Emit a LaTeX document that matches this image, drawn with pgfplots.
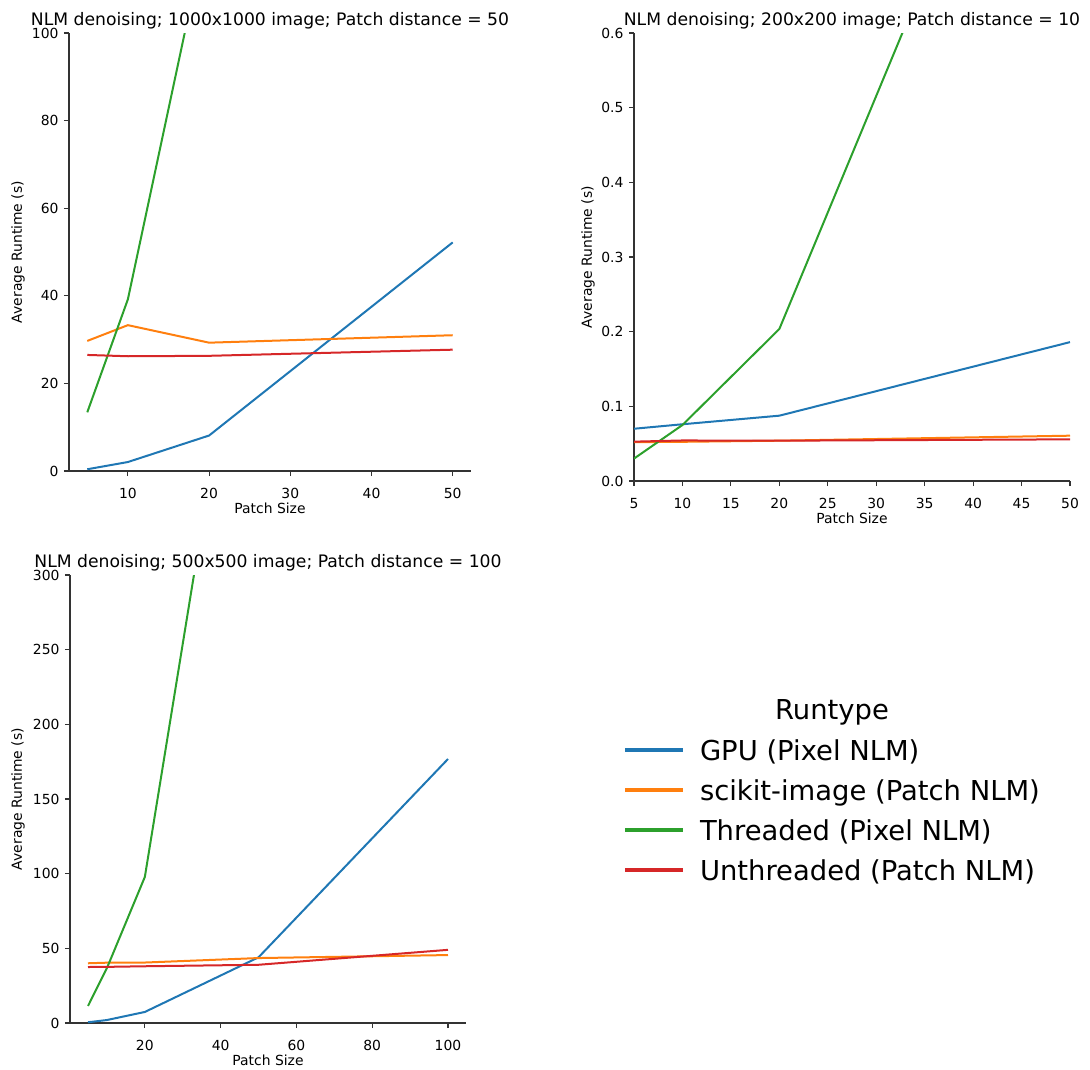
\documentclass[border=0pt]{standalone}
\usepackage{fontspec}
\setmainfont{DejaVu Sans}
\usepackage{pgfplots}
\pgfplotsset{compat=1.18}
\definecolor{tabblue}{HTML}{1F77B4}
\definecolor{taborange}{HTML}{FF7F0E}
\definecolor{tabgreen}{HTML}{2CA02C}
\definecolor{tabred}{HTML}{D62728}
\newcommand{\tickfont}{\fontsize{13.9}{16}\selectfont}
\pgfplotsset{
  nlm/.style={
    scale only axis,
    axis x line*=bottom, axis y line*=left,
    axis line style={-, line width=1.1pt, black!80},
    tick align=outside, major tick length=5pt,
    tick style={line width=1.1pt, black!80},
    /pgf/number format/assume math mode=true,
    xticklabel={\tickfont\pgfmathprintnumber{\tick}},
    yticklabel={\tickfont\pgfmathprintnumber{\tick}},
    xticklabel style={anchor=base, yshift=-22pt},
    yticklabel style={anchor=east, xshift=-2pt},
    label style={font=\fontsize{13.9}{16}\selectfont},
    xlabel style={at={([yshift=-42pt]axis description cs:0.5,0)}, anchor=base},
    title style={font=\fontsize{17.2}{20}\selectfont, at={([yshift=2pt]axis description cs:0.5,1)}, anchor=base},
    xlabel={Patch Size}, ylabel={Average Runtime (s)},
    every axis plot/.append style={line width=2pt, no markers, line join=round},
    ymin=0, clip=true,
  }
}
\begin{document}
\begin{tikzpicture}
\path[use as bounding box] (0,0) rectangle (1090pt,-1069pt);
% ---------------- subplot 1
\begin{axis}[nlm, at={(69pt,-471pt)}, anchor=south west, width=402pt, height=438pt,
  xmin=2.75, xmax=52.25, ymax=100, xtick={10,20,30,40,50}, ytick={0,20,40,60,80,100},
  ylabel style={at={([xshift=-51pt]axis description cs:0,0.5)}, anchor=center},
  title={NLM denoising; 1000x1000 image; Patch distance = 50}]
\addplot[tabblue] coordinates {(5,0.4) (10,2.05) (20,8.1) (50,52.2)};
\addplot[taborange] coordinates {(5,29.7) (10,33.3) (20,29.3) (50,31.0)};
\addplot[tabgreen] coordinates {(5,13.4) (10,39.2) (20,126.1) (50,390)};
\addplot[tabred] coordinates {(5,26.5) (10,26.2) (20,26.3) (50,27.7)};
\end{axis}
% ---------------- subplot 2
\begin{axis}[nlm, at={(634pt,-481pt)}, anchor=south west, width=436pt, height=448pt,
  xmin=5, xmax=50, ymax=0.6, xtick={5,10,...,50}, ytick={0,0.1,0.2,0.3,0.4,0.5,0.6},
  yticklabel={\tickfont\pgfmathprintnumber[fixed, precision=1, zerofill]{\tick}},
  ylabel style={at={([xshift=-46pt]axis description cs:0,0.5)}, anchor=center},
  title={NLM denoising; 200x200 image; Patch distance = 10}]
\addplot[tabblue] coordinates {(5,0.070) (10,0.076) (20,0.0875) (50,0.186)};
\addplot[taborange] coordinates {(5,0.052) (10,0.0525) (20,0.054) (50,0.0607)};
\addplot[tabgreen] coordinates {(5,0.030) (10,0.075) (20,0.2036) (50,1.14)};
\addplot[tabred] coordinates {(5,0.0527) (10,0.0543) (20,0.054) (50,0.0558)};
\end{axis}
% ---------------- subplot 3
\begin{axis}[nlm, at={(70pt,-1023pt)}, anchor=south west, width=396pt, height=448pt,
  xmin=0.25, xmax=104.75, ymax=300, xtick={20,40,60,80,100}, ytick={0,50,...,300},
  ylabel style={at={([xshift=-52pt]axis description cs:0,0.5)}, anchor=center},
  title={NLM denoising; 500x500 image; Patch distance = 100}]
\addplot[tabblue] coordinates {(5,0.5) (10,2) (20,7.4) (50,44) (100,176.8)};
\addplot[taborange] coordinates {(5,40) (10,40.4) (20,40.5) (50,43.5) (100,45.5)};
\addplot[tabgreen] coordinates {(5,11.4) (10,36.8) (20,97.8) (50,566) (100,1300)};
\addplot[tabred] coordinates {(5,37.5) (10,37.6) (20,38) (50,39) (100,49)};
\end{axis}
% ---------------- legend
\begin{axis}[hide axis, scale only axis, width=10pt, height=10pt,
  at={(623pt,-739pt)}, anchor=north west, xmin=0, xmax=1, ymin=0, ymax=1,
  legend image code/.code={\draw[#1] (0pt,3pt) -- (58pt,3pt); \path (73pt,3pt);},
  legend cell align=left,
  legend style={at={(0,1)}, anchor=north west, draw=none, fill=none,
    inner sep=0pt, outer sep=0pt, row sep=13pt,
    font=\fontsize{27.4}{32}\selectfont,
    nodes={inner sep=0pt, text height=21pt, text depth=6pt}}]
\addlegendimage{tabblue, line width=4pt}
\addlegendentry{GPU (Pixel NLM)}
\addlegendimage{taborange, line width=4pt}
\addlegendentry{scikit-image (Patch NLM)}
\addlegendimage{tabgreen, line width=4pt}
\addlegendentry{Threaded (Pixel NLM)}
\addlegendimage{tabred, line width=4pt}
\addlegendentry{Unthreaded (Patch NLM)}
\end{axis}
\node[anchor=base, font=\fontsize{27.4}{32}\selectfont] at (832pt,-719pt) {Runtype};
\end{tikzpicture}
\end{document}
